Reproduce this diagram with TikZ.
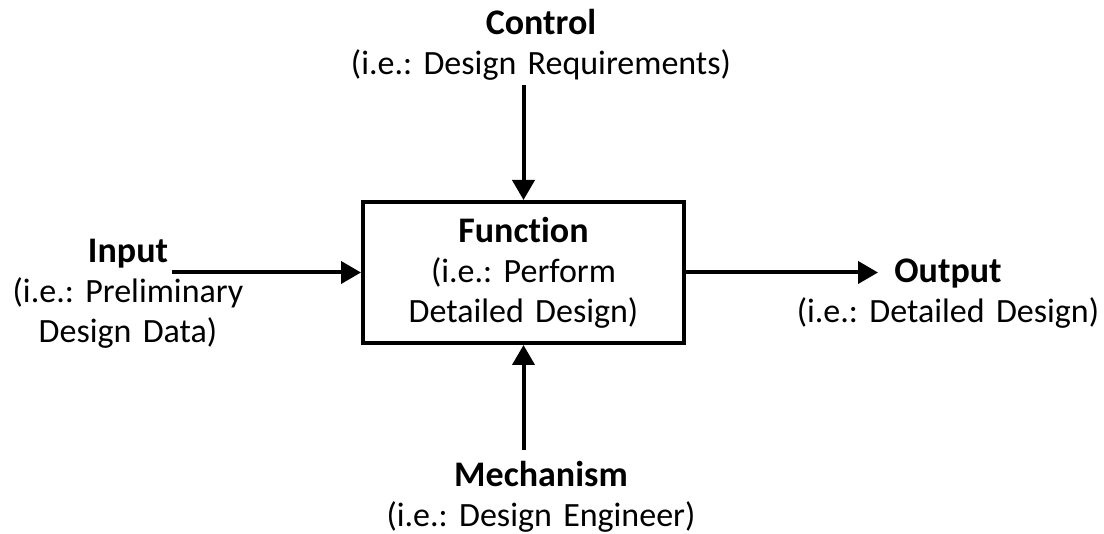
\documentclass[tikz,border=0pt]{standalone}
\usepackage{fontspec}
\setmainfont{Carlito}[Ligatures=NoCommon]
\usetikzlibrary{arrows.meta}
\frenchspacing
\newcommand{\ttl}[1]{{\fontsize{36}{40}\selectfont\bfseries #1}}
\begin{document}
\begin{tikzpicture}[x=1pt,y=1pt,
  lbl/.style={inner sep=0pt, anchor=base, text width=440pt, align=center,
    font=\fontsize{34}{40}\selectfont},
  flow/.style={line width=4pt, -{Triangle[length=20pt,width=22pt]}},
  funcbox/.style={draw, line width=4pt, minimum width=321pt, minimum height=141pt,
    inner sep=0pt, text width=321pt, align=center, font=\fontsize{34}{40}\selectfont}]
  \useasboundingbox (0,0) rectangle (1104,-534);

  % central activity box
  \node[funcbox] (box) at (523.5,-272.5)
    {\ttl{Function}\\(i.e.: Perform\\Detailed Design)};

  % labels around the box
  \node[lbl] (ctrl) at (541,-35) {\ttl{Control}\\(i.e.: Design Requirements)};
  \node[lbl] (inp)  at (128,-263) {\ttl{Input}\\(i.e.: Preliminary\\Design Data)};
  \node[lbl] (outp) at (948,-283) {\ttl{Output}\\(i.e.: Detailed Design)};
  \node[lbl] (mech) at (541,-487) {\ttl{Mechanism}\\(i.e.: Design Engineer)};

  % free ends of the connectors
  \coordinate (ctrlend) at (523.5,-85);
  \coordinate (inpend)  at (172,-272.5);
  \coordinate (outpend) at (878,-272.5);
  \coordinate (mechend) at (523.5,-450);

  \draw[flow] (ctrlend) -- (box.north);
  \draw[flow] (inpend) -- (box.west);
  \draw[flow] (box.east) -- (outpend);
  \draw[flow] (mechend) -- (box.south);
\end{tikzpicture}
\end{document}
